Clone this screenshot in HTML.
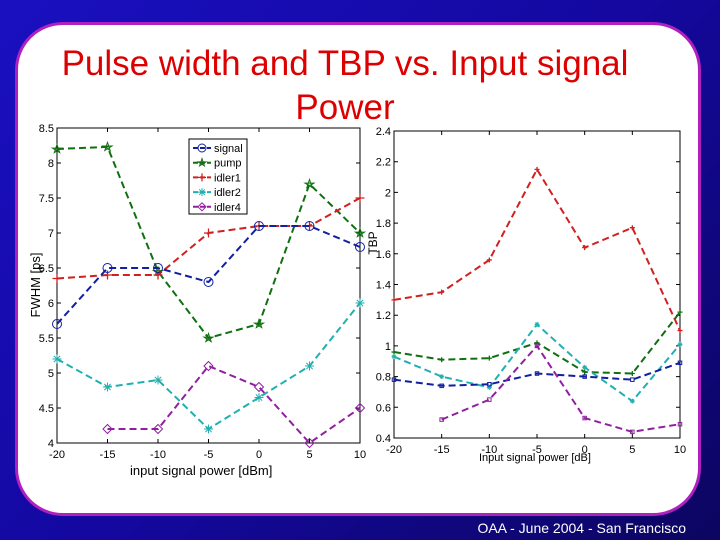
<!DOCTYPE html>
<html><head><meta charset="utf-8"><style>
body{margin:0;width:720px;height:540px;overflow:hidden;background:linear-gradient(135deg,#1a10c0 0%,#1408a0 50%,#0c0660 100%);font-family:"Liberation Sans",sans-serif;position:relative}
#card{position:absolute;left:15px;top:22px;width:680px;height:488px;background:#fff;border:3px solid #b020c0;border-radius:48px}
#title{position:absolute;left:0;top:42px;width:690px;text-align:center;color:#dd0000;font-size:35px;line-height:44px}
#foot{position:absolute;right:34px;top:520px;color:#fff;font-size:14px}
svg{position:absolute;left:0;top:0}
</style></head><body>
<div id="card"></div>
<div id="title">Pulse width and TBP vs. Input signal<br>Power</div>
<div id="foot">OAA - June 2004 - San Francisco</div>
<svg id="s" width="720" height="540"></svg>
<script>
const xs=[-20,-15,-10,-5,0,5,10];
const fwhmSignal=[5.7,6.5,6.5,6.3,7.1,7.1,6.8];
const fwhmPump=[8.2,8.23,6.45,5.5,5.7,7.7,7.0];
const fwhmIdler1=[6.35,6.4,6.4,7.0,7.1,7.1,7.5];
const fwhmIdler2=[5.2,4.8,4.9,4.2,4.65,5.1,6.0];
const fwhmIdler4=[null,4.2,4.2,5.1,4.8,4.0,4.5];
const tbpIdler1=[1.3,1.35,1.56,2.15,1.64,1.77,1.1];
const tbpPump=[0.96,0.91,0.92,1.02,0.83,0.82,1.22];
const tbpIdler2=[0.93,0.8,0.73,1.14,0.86,0.64,1.01];
const tbpSignal=[0.78,0.74,0.75,0.82,0.8,0.78,0.89];
const tbpIdler4=[null,0.52,0.65,1.0,0.53,0.44,0.49];
const xTicks=[-20,-15,-10,-5,0,5,10];
const leftYTicks=[4,4.5,5,5.5,6,6.5,7,7.5,8,8.5];
const rightYTicks=[0.4,0.6,0.8,1,1.2,1.4,1.6,1.8,2,2.2,2.4];
const NS='http://www.w3.org/2000/svg';
const svg=document.getElementById('s');
function mk(t,a,p){const e=document.createElementNS(NS,t);for(const k in a)e.setAttribute(k,a[k]);(p||svg).appendChild(e);return e;}
const C={signal:'#1020a0',pump:'#107010',idler1:'#d02020',idler2:'#20b0b0',idler4:'#9020a0'};
function marker(g,kind,x,y,col,r){
 if(kind==='o')mk('circle',{cx:x,cy:y,r:r,fill:'none',stroke:col,'stroke-width':1},g);
 else if(kind==='d')mk('path',{d:`M${x} ${y-r}L${x+r} ${y}L${x} ${y+r}L${x-r} ${y}Z`,fill:'none',stroke:col},g);
 else if(kind==='+')mk('path',{d:`M${x-r} ${y}H${x+r}M${x} ${y-r}V${y+r}`,stroke:col,'stroke-width':1.3},g);
 else if(kind==='*')mk('path',{d:`M${x-r} ${y}H${x+r}M${x} ${y-r}V${y+r}M${x-r*.7} ${y-r*.7}L${x+r*.7} ${y+r*.7}M${x-r*.7} ${y+r*.7}L${x+r*.7} ${y-r*.7}`,stroke:col},g);
 else if(kind==='p')mk('path',{d:`M${x} ${y-r}L${x+r*.6} ${y+r*.8}L${x-r} ${y-r*.2}H${x+r}L${x-r*.6} ${y+r*.8}Z`,fill:'none',stroke:col},g);
 else if(kind==='s')mk('rect',{x:x-r*.7,y:y-r*.7,width:r*1.4,height:r*1.4,fill:'none',stroke:col},g);
}
function chart(name,L,R,T,B,y0,y1,yt,series,ms,fs){
 const g=mk('g',{});
 const X=v=>L+(v+20)/30*(R-L), Y=v=>B-(v-y0)/(y1-y0)*(B-T);
 mk('rect',{x:L,y:T,width:R-L,height:B-T,fill:'#fff',stroke:'#000','stroke-width':1},g);
 xTicks.forEach(t=>{mk('path',{d:`M${X(t)} ${B}v-4M${X(t)} ${T}v4`,stroke:'#000'},g);
  const tx=mk('text',{x:X(t),y:B+15,'font-size':fs,'text-anchor':'middle'},g);tx.textContent=String(t);});
 yt.forEach(t=>{mk('path',{d:`M${L} ${Y(t)}h4M${R} ${Y(t)}h-4`,stroke:'#000'},g);
  const tx=mk('text',{x:L-3,y:Y(t)+4,'font-size':fs,'text-anchor':'end'},g);tx.textContent=String(t);});
 series.forEach(([sn,vals,col,mk2])=>{
  const sg=mk('g',{},g);
  let d='';vals.forEach((v,i)=>{if(v==null)return;d+=(d?'L':'M')+X(xs[i])+' '+Y(v);});
  mk('path',{d:d,fill:'none',stroke:col,'stroke-width':2,'stroke-dasharray':'7,4'},sg);
  vals.forEach((v,i)=>{if(v!=null)marker(sg,mk2,X(xs[i]),Y(v),col,ms);});
 });
 return g;
}
const g1=chart('fwhm-chart',57,360,128,443,4,8.5,leftYTicks,[
 ['series-pump',fwhmPump,C.pump,'p'],['series-idler1',fwhmIdler1,C.idler1,'+'],['series-signal',fwhmSignal,C.signal,'o'],
 ['series-idler2',fwhmIdler2,C.idler2,'*'],['series-idler4',fwhmIdler4,C.idler4,'d']],4.5,11);
let t=mk('text',{x:130,y:475,'font-size':13},g1);t.textContent='input signal power [dBm]';
t=mk('text',{x:0,y:0,'font-size':13,transform:'translate(40,285) rotate(-90)','text-anchor':'middle'},g1);t.textContent='FWHM [ps]';
const lg=mk('g',{},g1);
mk('rect',{x:189,y:139,width:58,height:75,fill:'#fff',stroke:'#000'},lg);
[['signal',C.signal,'o'],['pump',C.pump,'p'],['idler1',C.idler1,'+'],['idler2',C.idler2,'*'],['idler4',C.idler4,'d']].forEach(([n,c,m],i)=>{
 const yy=148+i*14.7;const e=mk('g',{},lg);
 mk('path',{d:`M193 ${yy}h18`,stroke:c,'stroke-width':2,'stroke-dasharray':'5,2'},e);marker(e,m,202,yy,c,4);
 const tx=mk('text',{x:214,y:yy+4,'font-size':11},e);tx.textContent=n;});
const g2=chart('tbp-chart',394,680,131,438,0.4,2.4,rightYTicks,[
 ['series-idler1',tbpIdler1,C.idler1,'+'],['series-pump',tbpPump,C.pump,'+'],['series-idler2',tbpIdler2,C.idler2,'*'],
 ['series-signal',tbpSignal,C.signal,'s'],['series-idler4',tbpIdler4,C.idler4,'s']],2.5,11);
t=mk('text',{x:479,y:461,'font-size':11},g2);t.textContent='Input signal power [dB]';
t=mk('text',{x:0,y:0,'font-size':12,transform:'translate(377,243) rotate(-90)','text-anchor':'middle'},g2);t.textContent='TBP';
</script>
</body></html>
